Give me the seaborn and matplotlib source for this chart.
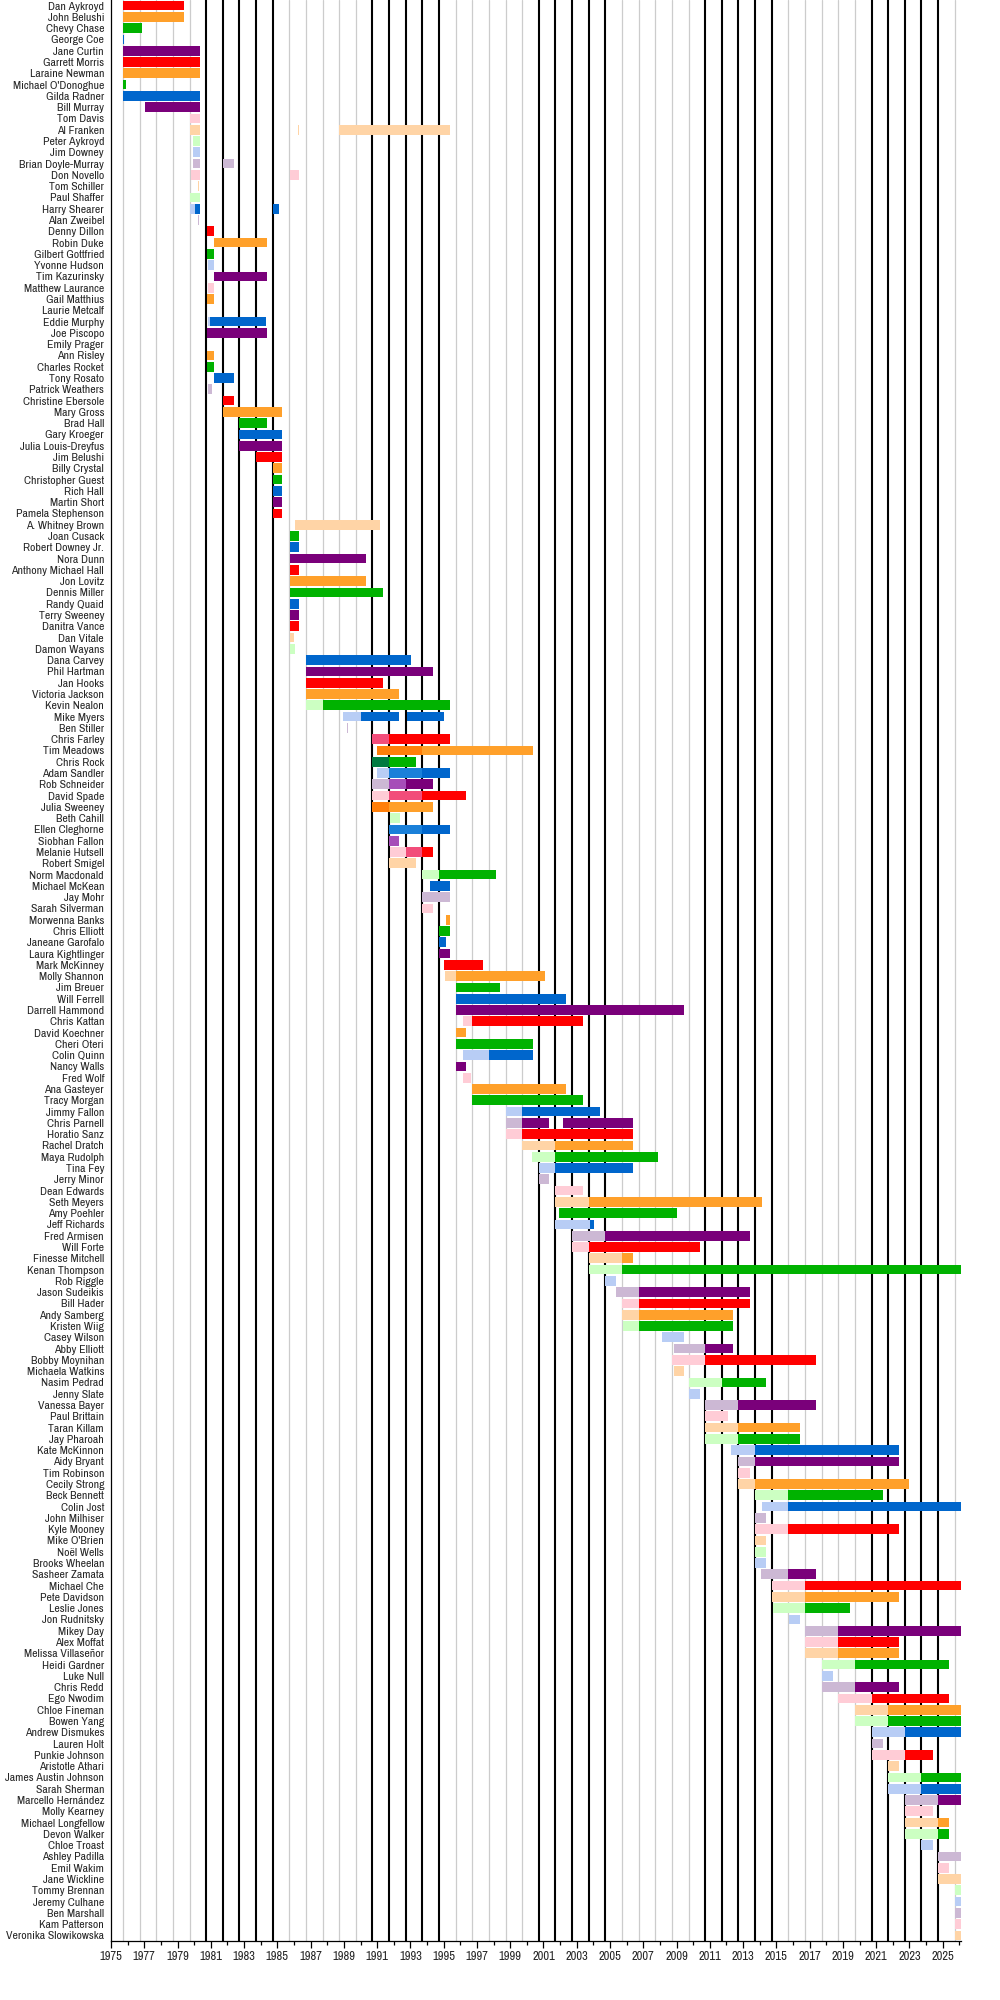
import pandas as pd
import seaborn as sns
import matplotlib.pyplot as plt
from matplotlib import font_manager

# Saturday Night Live cast members, one row each, in the order of the chart
names = [
    "Dan Aykroyd", "John Belushi", "Chevy Chase", "George Coe", "Jane Curtin",
    "Garrett Morris", "Laraine Newman", "Michael O'Donoghue", "Gilda Radner", "Bill Murray",
    "Tom Davis", "Al Franken", "Peter Aykroyd", "Jim Downey", "Brian Doyle-Murray",
    "Don Novello", "Tom Schiller", "Paul Shaffer", "Harry Shearer", "Alan Zweibel",
    "Denny Dillon", "Robin Duke", "Gilbert Gottfried", "Yvonne Hudson", "Tim Kazurinsky",
    "Matthew Laurance", "Gail Matthius", "Laurie Metcalf", "Eddie Murphy", "Joe Piscopo",
    "Emily Prager", "Ann Risley", "Charles Rocket", "Tony Rosato", "Patrick Weathers",
    "Christine Ebersole", "Mary Gross", "Brad Hall", "Gary Kroeger", "Julia Louis-Dreyfus",
    "Jim Belushi", "Billy Crystal", "Christopher Guest", "Rich Hall", "Martin Short",
    "Pamela Stephenson", "A. Whitney Brown", "Joan Cusack", "Robert Downey Jr.", "Nora Dunn",
    "Anthony Michael Hall", "Jon Lovitz", "Dennis Miller", "Randy Quaid", "Terry Sweeney",
    "Danitra Vance", "Dan Vitale", "Damon Wayans", "Dana Carvey", "Phil Hartman",
    "Jan Hooks", "Victoria Jackson", "Kevin Nealon", "Mike Myers", "Ben Stiller",
    "Chris Farley", "Tim Meadows", "Chris Rock", "Adam Sandler", "Rob Schneider",
    "David Spade", "Julia Sweeney", "Beth Cahill", "Ellen Cleghorne", "Siobhan Fallon",
    "Melanie Hutsell", "Robert Smigel", "Norm Macdonald", "Michael McKean", "Jay Mohr",
    "Sarah Silverman", "Morwenna Banks", "Chris Elliott", "Janeane Garofalo", "Laura Kightlinger",
    "Mark McKinney", "Molly Shannon", "Jim Breuer", "Will Ferrell", "Darrell Hammond",
    "Chris Kattan", "David Koechner", "Cheri Oteri", "Colin Quinn", "Nancy Walls",
    "Fred Wolf", "Ana Gasteyer", "Tracy Morgan", "Jimmy Fallon", "Chris Parnell",
    "Horatio Sanz", "Rachel Dratch", "Maya Rudolph", "Tina Fey", "Jerry Minor",
    "Dean Edwards", "Seth Meyers", "Amy Poehler", "Jeff Richards", "Fred Armisen",
    "Will Forte", "Finesse Mitchell", "Kenan Thompson", "Rob Riggle", "Jason Sudeikis",
    "Bill Hader", "Andy Samberg", "Kristen Wiig", "Casey Wilson", "Abby Elliott",
    "Bobby Moynihan", "Michaela Watkins", "Nasim Pedrad", "Jenny Slate", "Vanessa Bayer",
    "Paul Brittain", "Taran Killam", "Jay Pharoah", "Kate McKinnon", "Aidy Bryant",
    "Tim Robinson", "Cecily Strong", "Beck Bennett", "Colin Jost", "John Milhiser",
    "Kyle Mooney", "Mike O'Brien", "Noël Wells", "Brooks Wheelan", "Sasheer Zamata",
    "Michael Che", "Pete Davidson", "Leslie Jones", "Jon Rudnitsky", "Mikey Day",
    "Alex Moffat", "Melissa Villaseñor", "Heidi Gardner", "Luke Null", "Chris Redd",
    "Ego Nwodim", "Chloe Fineman", "Bowen Yang", "Andrew Dismukes", "Lauren Holt",
    "Punkie Johnson", "Aristotle Athari", "James Austin Johnson", "Sarah Sherman", "Marcello Hernández",
    "Molly Kearney", "Michael Longfellow", "Devon Walker", "Chloe Troast", "Ashley Padilla",
    "Emil Wakim", "Jane Wickline", "Tommy Brennan", "Jeremy Culhane", "Ben Marshall",
    "Kam Patterson", "Veronika Slowikowska",
]

now = 2026.1

# (start, end, status) per cast member; F = featured, M = middle group, R = repertory
tenures = [
    [(1975.72, 1979.38, 'R')],
    [(1975.72, 1979.38, 'R')],
    [(1975.72, 1976.85, 'R')],
    [(1975.72, 1975.80, 'R')],
    [(1975.72, 1980.35, 'R')],
    [(1975.72, 1980.35, 'R')],
    [(1975.72, 1980.35, 'R')],
    [(1975.72, 1975.92, 'R')],
    [(1975.72, 1980.35, 'R')],
    [(1977.02, 1980.35, 'R')],
    [(1979.72, 1980.35, 'F')],
    [(1979.72, 1980.35, 'F'), (1986.24, 1986.30, 'F'), (1988.72, 1995.38, 'F')],
    [(1979.90, 1980.35, 'F')],
    [(1979.90, 1980.35, 'F')],
    [(1979.90, 1980.35, 'F'), (1981.72, 1982.40, 'F')],
    [(1979.78, 1980.35, 'F'), (1985.75, 1986.30, 'F')],
    [(1980.22, 1980.30, 'F')],
    [(1979.72, 1980.35, 'F')],
    [(1979.72, 1980.02, 'F'), (1980.02, 1980.35, 'R'), (1984.72, 1985.08, 'R')],
    [(1980.24, 1980.29, 'F')],
    [(1980.75, 1981.22, 'R')],
    [(1981.20, 1984.37, 'R')],
    [(1980.75, 1981.22, 'R')],
    [(1980.82, 1981.20, 'F')],
    [(1981.20, 1984.37, 'R')],
    [(1980.82, 1981.20, 'F')],
    [(1980.75, 1981.22, 'R')],
    [(1981.20, 1981.22, 'F')],
    [(1980.86, 1980.95, 'F'), (1980.95, 1984.30, 'R')],
    [(1980.75, 1984.37, 'R')],
    [(1981.00, 1981.02, 'F')],
    [(1980.75, 1981.18, 'R')],
    [(1980.75, 1981.18, 'R')],
    [(1981.20, 1982.40, 'R')],
    [(1980.82, 1981.05, 'F')],
    [(1981.72, 1982.40, 'R')],
    [(1981.72, 1985.30, 'R')],
    [(1982.72, 1984.37, 'R')],
    [(1982.72, 1985.30, 'R')],
    [(1982.72, 1985.30, 'R')],
    [(1983.72, 1985.30, 'R')],
    [(1984.72, 1985.30, 'R')],
    [(1984.72, 1985.30, 'R')],
    [(1984.72, 1985.30, 'R')],
    [(1984.72, 1985.30, 'R')],
    [(1984.72, 1985.30, 'R')],
    [(1986.05, 1991.17, 'F')],
    [(1985.75, 1986.30, 'R')],
    [(1985.75, 1986.30, 'R')],
    [(1985.75, 1990.33, 'R')],
    [(1985.75, 1986.30, 'R')],
    [(1985.75, 1990.33, 'R')],
    [(1985.75, 1991.35, 'R')],
    [(1985.75, 1986.30, 'R')],
    [(1985.75, 1986.30, 'R')],
    [(1985.75, 1986.30, 'R')],
    [(1985.75, 1986.02, 'F')],
    [(1985.75, 1986.05, 'F')],
    [(1986.72, 1993.05, 'R')],
    [(1986.72, 1994.33, 'R')],
    [(1986.72, 1991.35, 'R')],
    [(1986.72, 1992.33, 'R')],
    [(1986.72, 1987.72, 'F'), (1987.72, 1995.36, 'R')],
    [(1988.95, 1990.05, 'F'), (1990.05, 1992.33, 'R'), (1992.82, 1995.00, 'R')],
    [(1989.17, 1989.25, 'F')],
    [(1990.72, 1991.72, 'M'), (1991.72, 1995.36, 'R')],
    [(1991.00, 1993.72, 'M'), (1993.72, 2000.38, 'R')],
    [(1990.72, 1991.72, 'M'), (1991.72, 1993.36, 'R')],
    [(1991.00, 1991.72, 'F'), (1991.72, 1993.72, 'M'), (1993.72, 1995.36, 'R')],
    [(1990.72, 1991.72, 'F'), (1991.72, 1992.72, 'M'), (1992.72, 1994.33, 'R')],
    [(1990.72, 1991.72, 'F'), (1991.72, 1993.72, 'M'), (1993.72, 1996.36, 'R')],
    [(1990.72, 1991.72, 'M'), (1991.72, 1994.33, 'R')],
    [(1991.78, 1992.40, 'F')],
    [(1991.72, 1993.72, 'M'), (1993.72, 1995.36, 'R')],
    [(1991.72, 1992.33, 'M')],
    [(1991.78, 1992.72, 'F'), (1992.72, 1993.72, 'M'), (1993.72, 1994.33, 'R')],
    [(1991.72, 1993.36, 'F')],
    [(1993.72, 1994.72, 'F'), (1994.72, 1998.12, 'R')],
    [(1994.20, 1995.36, 'R')],
    [(1993.72, 1995.36, 'F')],
    [(1993.72, 1994.33, 'F')],
    [(1995.15, 1995.36, 'R')],
    [(1994.72, 1995.36, 'R')],
    [(1994.72, 1995.15, 'R')],
    [(1994.72, 1995.36, 'R')],
    [(1995.02, 1997.38, 'R')],
    [(1995.10, 1995.72, 'F'), (1995.72, 2001.12, 'R')],
    [(1995.72, 1998.36, 'R')],
    [(1995.72, 2002.38, 'R')],
    [(1995.72, 2009.42, 'R')],
    [(1996.15, 1996.72, 'F'), (1996.72, 2003.40, 'R')],
    [(1995.72, 1996.33, 'R')],
    [(1995.72, 2000.38, 'R')],
    [(1996.15, 1997.72, 'F'), (1997.72, 2000.38, 'R')],
    [(1995.72, 1996.33, 'R')],
    [(1996.15, 1996.65, 'F')],
    [(1996.72, 2002.38, 'R')],
    [(1996.72, 2003.40, 'R')],
    [(1998.72, 1999.72, 'F'), (1999.72, 2004.37, 'R')],
    [(1998.72, 1999.72, 'F'), (1999.72, 2001.35, 'R'), (2002.15, 2006.37, 'R')],
    [(1998.72, 1999.72, 'F'), (1999.72, 2006.37, 'R')],
    [(1999.72, 2001.72, 'F'), (2001.72, 2006.37, 'R')],
    [(2000.33, 2001.72, 'F'), (2001.72, 2007.87, 'R')],
    [(2000.72, 2001.72, 'F'), (2001.72, 2006.37, 'R')],
    [(2000.72, 2001.35, 'F')],
    [(2001.72, 2003.40, 'F')],
    [(2001.72, 2003.72, 'F'), (2003.72, 2014.12, 'R')],
    [(2001.95, 2009.00, 'R')],
    [(2001.72, 2003.78, 'F'), (2003.78, 2004.02, 'R')],
    [(2002.72, 2004.72, 'F'), (2004.72, 2013.40, 'R')],
    [(2002.72, 2003.72, 'F'), (2003.72, 2010.40, 'R')],
    [(2003.72, 2005.72, 'F'), (2005.72, 2006.37, 'R')],
    [(2003.72, 2005.72, 'F'), (2005.72, now, 'R')],
    [(2004.72, 2005.38, 'F')],
    [(2005.33, 2006.72, 'F'), (2006.72, 2013.40, 'R')],
    [(2005.75, 2006.72, 'F'), (2006.72, 2013.40, 'R')],
    [(2005.75, 2006.72, 'F'), (2006.72, 2012.37, 'R')],
    [(2005.80, 2006.72, 'F'), (2006.72, 2012.37, 'R')],
    [(2008.13, 2009.42, 'F')],
    [(2008.82, 2010.72, 'F'), (2010.72, 2012.37, 'R')],
    [(2008.75, 2010.72, 'F'), (2010.72, 2017.38, 'R')],
    [(2008.82, 2009.42, 'F')],
    [(2009.75, 2011.72, 'F'), (2011.72, 2014.40, 'R')],
    [(2009.75, 2010.40, 'F')],
    [(2010.72, 2012.72, 'F'), (2012.72, 2017.38, 'R')],
    [(2010.72, 2012.08, 'F')],
    [(2010.72, 2012.72, 'F'), (2012.72, 2016.40, 'R')],
    [(2010.72, 2012.72, 'F'), (2012.72, 2016.40, 'R')],
    [(2012.27, 2013.72, 'F'), (2013.72, 2022.40, 'R')],
    [(2012.72, 2013.72, 'F'), (2013.72, 2022.40, 'R')],
    [(2012.72, 2013.40, 'F')],
    [(2012.72, 2013.72, 'F'), (2013.72, 2022.96, 'R')],
    [(2013.72, 2015.72, 'F'), (2015.72, 2021.40, 'R')],
    [(2014.15, 2015.72, 'F'), (2015.72, now, 'R')],
    [(2013.72, 2014.40, 'F')],
    [(2013.72, 2015.72, 'F'), (2015.72, 2022.40, 'R')],
    [(2013.72, 2014.40, 'F')],
    [(2013.72, 2014.40, 'F')],
    [(2013.72, 2014.40, 'F')],
    [(2014.05, 2015.72, 'F'), (2015.72, 2017.40, 'R')],
    [(2014.72, 2016.72, 'F'), (2016.72, now, 'R')],
    [(2014.72, 2016.72, 'F'), (2016.72, 2022.40, 'R')],
    [(2014.80, 2016.72, 'F'), (2016.72, 2019.40, 'R')],
    [(2015.75, 2016.40, 'F')],
    [(2016.72, 2018.72, 'F'), (2018.72, now, 'R')],
    [(2016.72, 2018.72, 'F'), (2018.72, 2022.40, 'R')],
    [(2016.72, 2018.72, 'F'), (2018.72, 2022.40, 'R')],
    [(2017.72, 2019.72, 'F'), (2019.72, 2025.40, 'R')],
    [(2017.72, 2018.40, 'F')],
    [(2017.72, 2019.72, 'F'), (2019.72, 2022.40, 'R')],
    [(2018.72, 2020.72, 'F'), (2020.72, 2025.40, 'R')],
    [(2019.72, 2021.72, 'F'), (2021.72, now, 'R')],
    [(2019.72, 2021.72, 'F'), (2021.72, now, 'R')],
    [(2020.72, 2022.72, 'F'), (2022.72, now, 'R')],
    [(2020.72, 2021.40, 'F')],
    [(2020.72, 2022.72, 'F'), (2022.72, 2024.40, 'R')],
    [(2021.72, 2022.40, 'F')],
    [(2021.72, 2023.72, 'F'), (2023.72, now, 'R')],
    [(2021.72, 2023.72, 'F'), (2023.72, now, 'R')],
    [(2022.72, 2024.72, 'F'), (2024.72, now, 'R')],
    [(2022.72, 2024.40, 'F')],
    [(2022.72, 2024.72, 'F'), (2024.72, 2025.40, 'R')],
    [(2022.72, 2024.72, 'F'), (2024.72, 2025.40, 'R')],
    [(2023.72, 2024.40, 'F')],
    [(2024.72, now, 'F')],
    [(2024.72, 2025.40, 'F')],
    [(2024.72, now, 'F')],
    [(2025.72, now, 'F')],
    [(2025.72, now, 'F')],
    [(2025.72, now, 'F')],
    [(2025.72, now, 'F')],
    [(2025.72, now, 'F')],
]

# season premieres (vertical guide lines), black for every other five seasons
season_years = list(range(1975, 2026))
black_years = [1980, 1981, 1982, 1983, 1984, 1990, 1991, 1992, 1993, 1994,
               2000, 2001, 2002, 2003, 2004, 2010, 2011, 2012, 2013, 2014,
               2020, 2021, 2022, 2023, 2024]

palette = {
    'R': ['#ff0000', '#ffa02a', '#00b200', '#0066cc', '#7a007a'],
    'M': ['#f24d7a', '#ff7f0a', '#007a40', '#1a80d9', '#a64db8'],
    'F': ['#ffccd6', '#ffd4a6', '#ccffc2', '#b8cdf5', '#ccb8d4'],
}

records = []
for i, segs in enumerate(tenures):
    for start, end, kind in segs:
        records.append({'row': i, 'start': start, 'end': end, 'kind': kind,
                        'color': palette[kind][i % 5]})
df = pd.DataFrame(records)

sns.set_style("white")
# a narrow face if one is installed, otherwise Liberation Sans (shrunk below)
narrow = None
for f in font_manager.fontManager.ttflist:
    if ('Narrow' in f.name or 'Condensed' in f.name) and f.style == 'normal':
        narrow = f.name
        break
plt.rcParams['font.family'] = [narrow or 'Liberation Sans', 'DejaVu Sans']

fig = plt.figure(figsize=(10, 20), dpi=100)
ax = fig.add_axes([0.111, 0.0295, 0.85, 0.9705])

for y in season_years:
    if y in black_years:
        ax.axvline(y + 0.72, color='black', lw=1.5, zorder=1)
    else:
        ax.axvline(y + 0.72, color='#cccccc', lw=0.9, zorder=1)

ax.barh(df['row'], df['end'] - df['start'], left=df['start'], height=0.86,
        color=df['color'], linewidth=0, zorder=3)

ax.set_xlim(1975, now)
ax.set_ylim(len(names) - 0.5, -0.5)
ax.set_yticks(range(len(names)))
ax.set_yticklabels(names, fontsize=8.5)
ax.set_xticks(range(1975, 2026, 2))
ax.set_xticks(range(1975, 2027), minor=True)
ax.tick_params(axis='x', which='major', length=5, width=0.9, labelsize=9, pad=2)
ax.tick_params(axis='x', which='minor', length=3, width=0.9)
ax.tick_params(axis='y', length=0, pad=5)
ax.tick_params(axis='x', bottom=True, which='both', direction='out', color='black')

sns.despine(ax=ax, top=True, right=True)
for side in ['left', 'bottom']:
    ax.spines[side].set_color('black')
    ax.spines[side].set_linewidth(0.9)
    ax.spines[side].set_zorder(4)
ax.set_xlabel('')
ax.set_ylabel('')

# shrink the name labels until the longest one fits left of the axes
fig.canvas.draw()
renderer = fig.canvas.get_renderer()
widest = max(t.get_window_extent(renderer).width for t in ax.get_yticklabels())
room = 0.111 * 1000 - 5 / 72 * 100 - 4
if widest > room:
    size = 8.5 * room / widest
    for t in ax.get_yticklabels():
        t.set_fontsize(size)

fig.savefig('out.png', dpi=100)
